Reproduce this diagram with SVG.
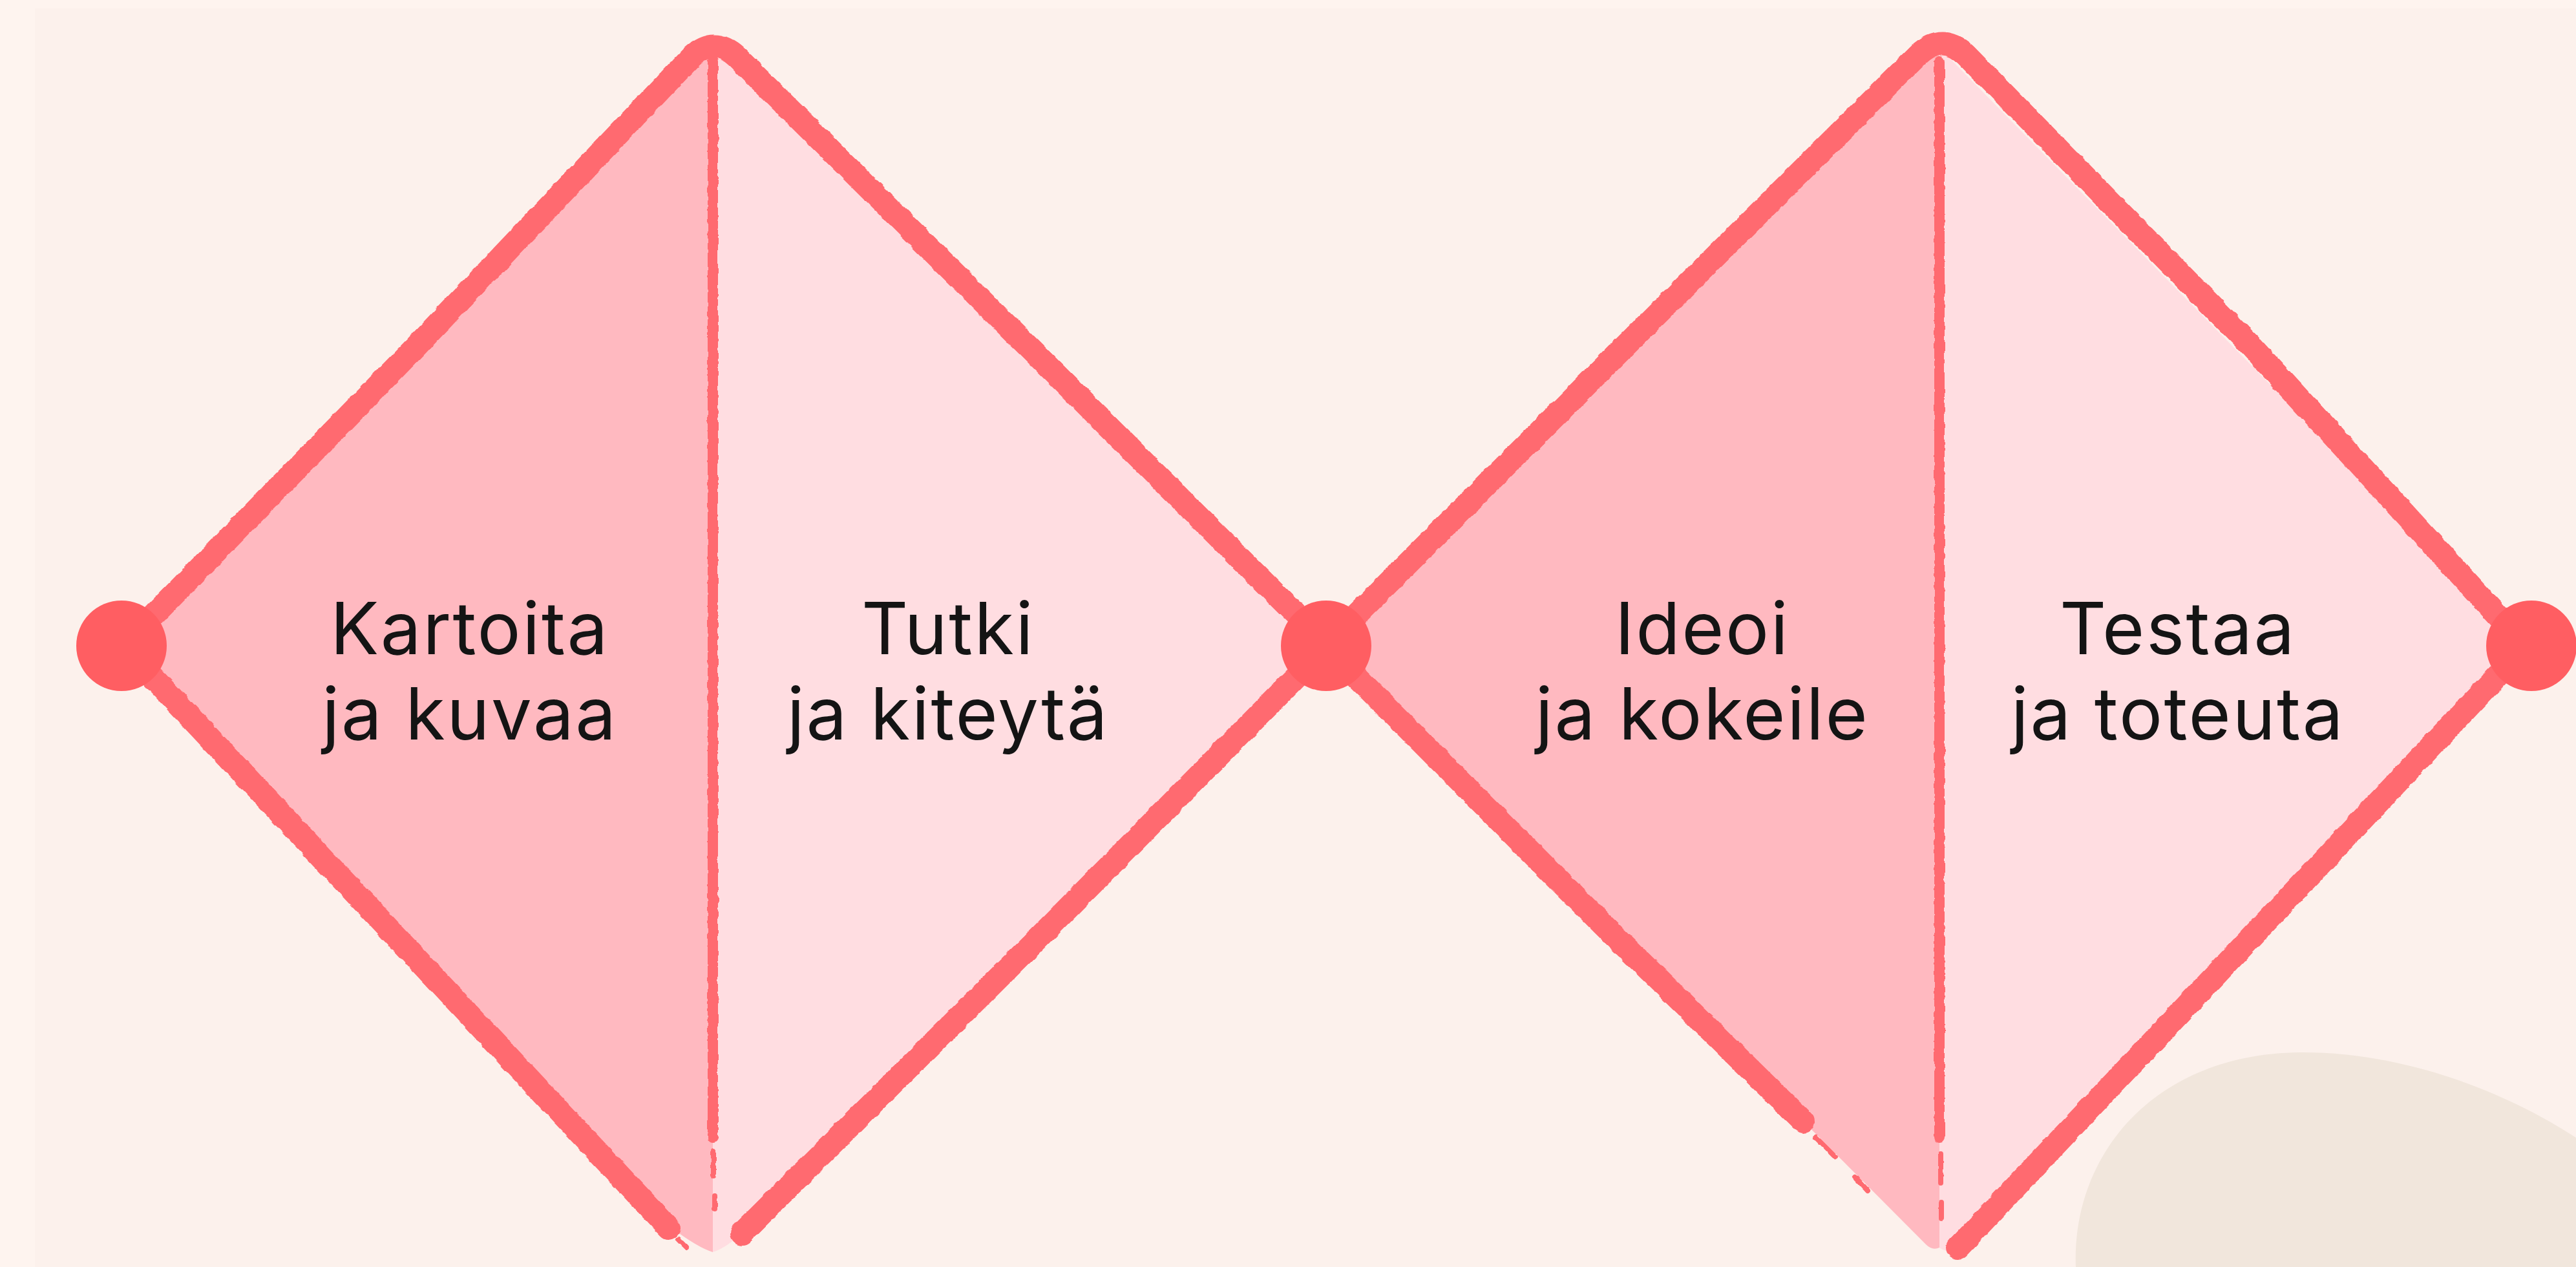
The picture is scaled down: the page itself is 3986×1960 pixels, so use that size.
<svg xmlns="http://www.w3.org/2000/svg" width="3986" height="1960" viewBox="0 0 3986 1960">
<defs>
<filter id="rough" x="-5%" y="-5%" width="110%" height="110%">
<feTurbulence type="fractalNoise" baseFrequency="0.03 0.09" numOctaves="2" seed="7" result="n"/>
<feDisplacementMap in="SourceGraphic" in2="n" scale="5" xChannelSelector="R" yChannelSelector="G"/>
</filter>
<style>
.edge{fill:none;stroke:#FF6B70;stroke-width:36;stroke-linecap:round;stroke-linejoin:round}
.thin{fill:none;stroke:#FF6B70;stroke-width:8;stroke-linecap:round}
.div{fill:none;stroke:#FF6B70;stroke-width:16;stroke-linecap:round}
.dark{fill:#FFB9C0}
.light{fill:#FFDDE1}
.dot{fill:#FF5E62}
.lbl{font-family:Inter,"Noto Sans","Liberation Sans",sans-serif;font-size:112px;letter-spacing:2.5px;fill:#141414;text-anchor:middle}
</style>
</defs>
<rect x="0" y="0" width="3986" height="1960" fill="#FEF4EF"/>
<rect x="54" y="13" width="3932" height="1947" fill="#FCF1EC"/>
<path d="M3212 1960 C3205 1790 3330 1630 3560 1628 C3720 1627 3880 1690 3986 1760 L3986 1960 Z" fill="#F1E6DC"/>

<g id="node-kartoita">
<path class="dark" d="M196 999 L1103 76 L1103 1937 Q1080 1930 1040 1900 Z"/>
<text class="lbl" x="727" y="1012">Kartoita</text>
<text class="lbl" x="727" y="1144">ja kuvaa</text>
</g>
<g id="node-tutki">
<path class="light" d="M1103 76 L2046 999 L1150 1905 Q1125 1930 1103 1937 Z"/>
<text class="lbl" x="1467" y="1012">Tutki</text>
<text class="lbl" x="1467" y="1144">ja kiteytä</text>
</g>
<g id="node-ideoi">
<path class="dark" d="M2058 999 L3001 74 L3001 1930 Q2990 1935 2980 1925 Z"/>
<text class="lbl" x="2634" y="1012">Ideoi</text>
<text class="lbl" x="2634" y="1144">ja kokeile</text>
</g>
<g id="node-testaa">
<path class="light" d="M3001 74 L3910 999 L3030 1935 Q3012 1938 3001 1930 Z"/>
<text class="lbl" x="3370" y="1012">Testaa</text>
<text class="lbl" x="3370" y="1144">ja toteuta</text>
</g>

<g id="connectors" filter="url(#rough)">
<path class="edge" d="M215 975 L640 540 L1070 88 Q1105 55 1140 88 L1600 545 L2040 985"/>
<path class="edge" d="M215 1025 L640 1478 L1035 1900"/>
<path class="edge" d="M2040 1013 L1600 1458 L1148 1908"/>
<path class="edge" d="M2065 985 L2520 530 L2968 85 Q3005 50 3042 85 L3480 532 L3895 985"/>
<path class="edge" d="M3895 1013 L3460 1475 L3030 1930"/>
<path class="edge" d="M2065 1013 L2480 1430 L2790 1735"/>
<path class="thin" d="M2810 1760 L2840 1790 M2870 1820 L2890 1842 M1050 1918 L1062 1930"/>
<path class="div" d="M1103 95 L1103 1760"/>
<path class="div" d="M3001 95 L3001 1760"/>
<path class="thin" d="M1104 1780 L1104 1820 M1106 1850 L1106 1870 M3003 1785 L3003 1830 M3004 1860 L3004 1885"/>
</g>

<g id="dots">
<circle class="dot" cx="188" cy="999" r="70"/>
<circle class="dot" cx="2052" cy="999" r="70"/>
<circle class="dot" cx="3917" cy="999" r="70"/>
</g>
</svg>
